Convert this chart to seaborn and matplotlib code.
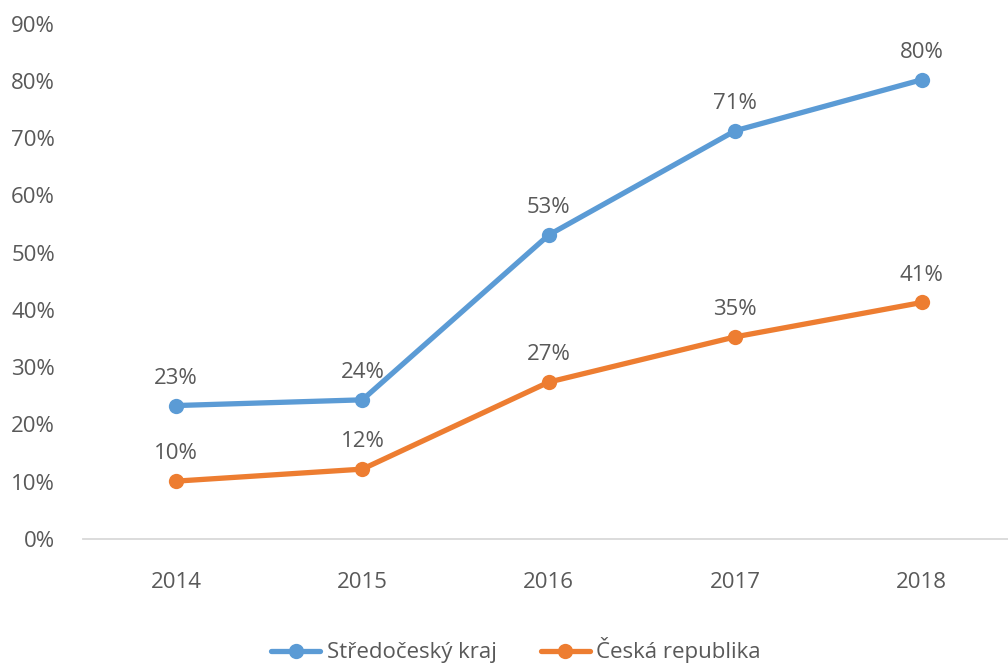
import pandas as pd
import numpy as np
import matplotlib.pyplot as plt
import seaborn as sns

# Data
years = ["2014", "2015", "2016", "2017", "2018"]
stredocesky = [0.233, 0.243, 0.531, 0.713, 0.802]
cesko = [0.101, 0.122, 0.274, 0.353, 0.413]
series_names = ["Středočeský kraj", "Česká republika"]
colors = ["#5B9BD5", "#ED7D31"]
yticks = [0, 0.1, 0.2, 0.3, 0.4, 0.5, 0.6, 0.7, 0.8, 0.9]

df = pd.DataFrame({
    "year": years * 2,
    "value": stredocesky + cesko,
    "series": [series_names[0]] * 5 + [series_names[1]] * 5,
})

sns.set_style("white")
plt.rcParams["font.family"] = ["Open Sans", "DejaVu Sans"]
text_color = "#595959"

fig = plt.figure(figsize=(10.08, 6.65), dpi=100)
ax = fig.add_axes([0.082, 0.1895, 0.925, 0.775])

sns.lineplot(data=df, x="year", y="value", hue="series", palette=colors,
             marker="o", markersize=11, markeredgewidth=0, linewidth=3.8,
             sort=False, ax=ax)

# data labels
for vals in [stredocesky, cesko]:
    for i, v in enumerate(vals):
        ax.annotate(f"{round(v * 100):.0f}%", (i, v), xytext=(0, 12),
                    textcoords="offset points", ha="center", va="bottom",
                    fontsize=16, color=text_color)

ax.set_xlim(-0.5, 4.5)
ax.set_ylim(0, 0.9)
ax.set_yticks(yticks)
ax.set_yticklabels([f"{int(round(t * 100))}%" for t in yticks])
ax.tick_params(axis="both", length=0, labelsize=16, colors=text_color)
ax.tick_params(axis="x", pad=24)
ax.tick_params(axis="y", pad=20)
ax.set_xlabel("")
ax.set_ylabel("")
for s in ["top", "right", "left"]:
    ax.spines[s].set_visible(False)
ax.spines["bottom"].set_color("#D9D9D9")
ax.spines["bottom"].set_linewidth(1.3)

handles, labels = ax.get_legend_handles_labels()
leg = ax.legend(handles, labels, loc="center", bbox_to_anchor=(0.512, 0.022),
                bbox_transform=fig.transFigure, ncol=2, frameon=False,
                fontsize=16, labelcolor=text_color, handlelength=2.2,
                columnspacing=2.0, handletextpad=0.3)

fig.savefig("out.png", dpi=100)
